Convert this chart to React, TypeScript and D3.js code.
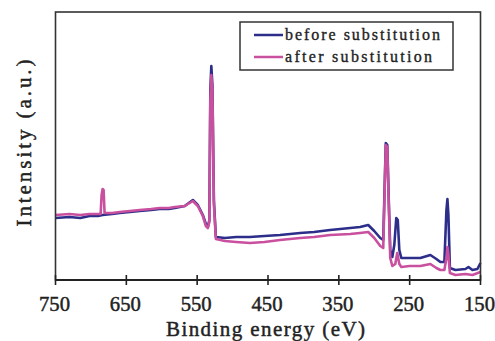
import React from "react";
import * as d3 from "d3";

// Binding energy (eV) and intensity (a.u.)
const beforeEnergy = [750, 730.2, 715, 701.9, 690, 683.5, 670, 659.4, 645, 631.1, 615, 602.8, 590, 581.6, 567.5, 556.1, 549.1, 542.0, 537.7, 534.9, 532.8, 531.4, 530.0, 528.5, 526.4, 523.6, 510.8, 495, 475.5, 455, 433.0, 404.7, 385, 362.3, 334.0, 320, 308.5, 300.0, 291.5, 287.3, 285.1, 283.7, 281.6, 279.5, 277.4, 274.5, 271.7, 268.9, 266.8, 264.6, 261.8, 250, 234.9, 220.8, 212.3, 206.6, 201.0, 198.1, 196.7, 195.3, 193.2, 185.4, 171.3, 167.0, 161.4, 154.4, 150];
const beforeIntensity = [62, 63, 62, 64, 64, 65, 66, 67, 68, 69, 70, 71, 71, 72, 74, 80, 75, 65, 56, 53, 60, 190, 214, 195, 80, 43, 42, 43, 43, 44, 45, 47, 48, 50, 52, 53, 55, 49, 42, 40, 100, 137, 135, 80, 30, 23, 35, 62, 60, 30, 22, 22, 22, 25, 21, 18, 18, 70, 81, 65, 12, 10, 11, 13, 10, 11, 17];

const afterEnergy = [750, 730.2, 715, 701.9, 686.3, 684.9, 683.5, 682.1, 680.7, 670, 659.4, 645, 631.1, 615, 602.8, 590, 581.6, 567.5, 556.1, 549.1, 542.0, 537.7, 534.9, 532.8, 531.4, 530.0, 528.5, 526.4, 523.6, 510.8, 495, 475.5, 455, 433.0, 404.7, 385, 362.3, 334.0, 320, 308.5, 300.0, 291.5, 287.3, 285.1, 283.7, 281.6, 279.5, 277.4, 274.5, 270.3, 267.5, 264.6, 261.8, 250, 234.9, 220.8, 212.3, 206.6, 201.0, 198.1, 196.7, 195.3, 193.2, 185.4, 171.3, 161.4, 150];
const afterIntensity = [65, 66, 65, 66, 66, 85, 91, 90, 67, 67, 68, 69, 70, 71, 72, 72, 73, 74, 79, 74, 64, 54, 52, 58, 180, 205, 190, 75, 41, 39, 38, 37, 38, 40, 42, 43, 45, 46, 47, 48, 42, 34, 32, 95, 135, 133, 75, 22, 14, 16, 27, 16, 13, 14, 14, 16, 12, 10, 10, 22, 33, 25, 7, 5, 6, 5, 8];

const xTicks = [750, 650, 550, 450, 350, 250, 150];
const seriesNames = ["before substitution", "after substitution"];
const seriesColors = ["#2c2e8a", "#c94f9f"];

const W = 495;
const H = 341;
const left = 55.5;
const right = 480.5;
const top = 12;
const bottom = 280;
const font = "'Liberation Serif', 'Times New Roman', serif";
const ink = "#222";

export default function App() {
  const x = d3.scaleLinear().domain([750, 150]).range([left, right]);
  const y = d3.scaleLinear().domain([0, 268]).range([bottom, top]);
  const line = d3
    .line<[number, number]>()
    .x((d) => x(d[0]))
    .y((d) => y(d[1]))
    .curve(d3.curveLinear);

  const before = beforeEnergy.map((e, i) => [e, beforeIntensity[i]] as [number, number]);
  const after = afterEnergy.map((e, i) => [e, afterIntensity[i]] as [number, number]);

  const textStyle = { stroke: ink, strokeWidth: 0.45 };

  return (
    <svg
      width={W}
      height={H}
      style={{ position: "absolute", left: 0, top: 0, background: "#fff" }}
    >
      <rect x={0} y={0} width={W} height={H} fill="#fff" />
      <path d={line(before) || ""} fill="none" stroke={seriesColors[0]} strokeWidth={2.6} strokeLinejoin="round" />
      <path d={line(after) || ""} fill="none" stroke={seriesColors[1]} strokeWidth={2.6} strokeLinejoin="round" />

      {/* frame */}
      <rect x={left} y={top} width={right - left} height={bottom - top} fill="none" stroke="#333" strokeWidth={1.6} />
      <line x1={left} x2={right} y1={bottom} y2={bottom} stroke={ink} strokeWidth={2} />

      {xTicks.map((t) => (
        <g key={t}>
          <line x1={x(t)} x2={x(t)} y1={bottom - 5} y2={bottom + 5} stroke={ink} strokeWidth={1.6} />
          <text
            x={x(t) - 1}
            y={311}
            textAnchor="middle"
            fontFamily={font}
            fontSize={20}
            fill={ink}
            style={textStyle}
            textLength={31}
            lengthAdjust="spacingAndGlyphs"
          >
            {t}
          </text>
        </g>
      ))}

      <text
        x={265.5}
        y={336}
        textAnchor="middle"
        fontFamily={font}
        fontSize={21}
        fill={ink}
        style={textStyle}
        textLength={199}
        lengthAdjust="spacing"
      >
        Binding energy (eV)
      </text>

      <text
        transform="translate(31,143) rotate(-90)"
        textAnchor="middle"
        fontFamily={font}
        fontSize={21}
        fill={ink}
        style={textStyle}
        textLength={167}
        lengthAdjust="spacing"
      >
        Intensity (a.u.)
      </text>

      {/* legend */}
      <rect x={240} y={22} width={213} height={48} fill="#fff" stroke="#333" strokeWidth={1.5} />
      {seriesNames.map((n, i) => (
        <g key={n}>
          <line x1={254} x2={283} y1={35 + i * 22} y2={35 + i * 22} stroke={seriesColors[i]} strokeWidth={2.5} />
          <text
            x={285}
            y={40 + i * 22}
            fontFamily={font}
            fontSize={16}
            fill={ink}
            style={{ stroke: ink, strokeWidth: 0.35 }}
            textLength={i === 0 ? 155 : 147}
            lengthAdjust="spacing"
          >
            {n}
          </text>
        </g>
      ))}
    </svg>
  );
}
